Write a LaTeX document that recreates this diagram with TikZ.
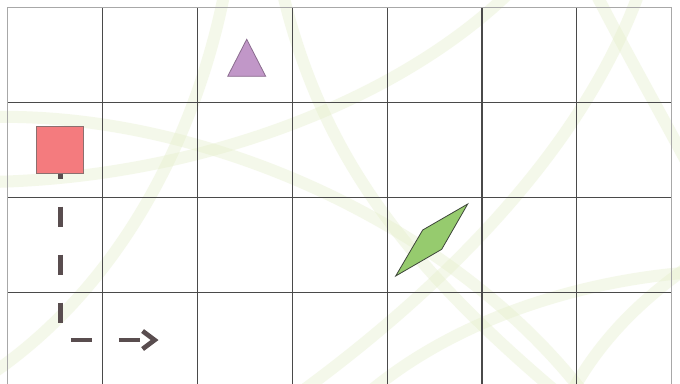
\documentclass[tikz,border=0pt]{standalone}
\usetikzlibrary{arrows.meta}
\definecolor{gridc}{HTML}{4A4A4A}
\definecolor{framec}{HTML}{A8A8A8}
\definecolor{bandc}{HTML}{E5EFCB}
\definecolor{sqfill}{HTML}{F47B7E}
\definecolor{sqdraw}{HTML}{8C6F6F}
\definecolor{trifill}{HTML}{C197C8}
\definecolor{tridraw}{HTML}{8A6C8E}
\definecolor{parfill}{HTML}{96CB6E}
\definecolor{pardraw}{HTML}{3E463A}
\definecolor{connc}{HTML}{594D4F}
\tikzset{
  band/.style={draw=bandc, line width=12pt, line cap=round, draw opacity=0.4},
  gridline/.style={draw=gridc, line width=1.1pt},
  frameline/.style={draw=framec, line width=1.1pt},
  sqbox/.style={draw=sqdraw, fill=sqfill, line width=0.8pt, minimum size=47pt, inner sep=0pt},
  trishape/.style={draw=tridraw, fill=trifill, line width=0.8pt, line join=miter},
  parshape/.style={draw=pardraw, fill=parfill, line width=0.8pt, line join=miter},
  conn/.style={draw=connc, line width=4.7pt, dash pattern=on 20.7pt off 27.3pt, dash phase=15pt,
    -{Straight Barb[length=12pt,width=18pt,line join=miter]}}
}
\begin{document}
\begin{tikzpicture}[x=1pt,y=-1pt]
\useasboundingbox (0,0) rectangle (680,383);
\begin{scope}
\clip (0,0) rectangle (680,383);
\fill[white] (0,0) rectangle (680,383);
% decorative bands
\draw[band] (225,-10) .. controls (200,120) and (130,280) .. (-10,375);
\draw[band] (282,-10) .. controls (320,150) and (400,260) .. (560,395);
\draw[band] (512,-10) .. controls (400,100) and (200,178) .. (-10,182);
\draw[band] (-10,117) .. controls (200,112) and (450,220) .. (585,395);
\draw[band] (594,-10) .. controls (630,60) and (670,130) .. (695,178);
\draw[band] (640,-10) .. controls (590,130) and (470,270) .. (290,400);
\draw[band] (695,262) .. controls (640,300) and (600,340) .. (570,395);
\draw[band] (360,400) .. controls (450,320) and (580,280) .. (695,272);
% grid
\foreach \i in {1,...,6} {
  \draw[gridline] ({7.7+94.86*\i},7.7) -- ({7.7+94.86*\i},390);
}
\foreach \j in {1,2,3} {
  \draw[gridline] (7.7,{7.7+94.86*\j}) -- (671.7,{7.7+94.86*\j});
}
\draw[frameline] (7.7,390) -- (7.7,7.7) -- (671.7,7.7) -- (671.7,390);
\end{scope}
% shapes
\draw[trishape] (246.7,39.3) -- (265.7,76.3) -- (227.7,76.3) -- cycle;
\draw[parshape] (467.7,204) -- (441.7,249.3) -- (395.7,276) -- (422.7,230) -- cycle;
\node[sqbox] (sq) at (60.2,149.8) {};
\coordinate (end) at (158.5,340);
\draw[conn] (sq.south) |- (end);
\end{tikzpicture}
\end{document}
